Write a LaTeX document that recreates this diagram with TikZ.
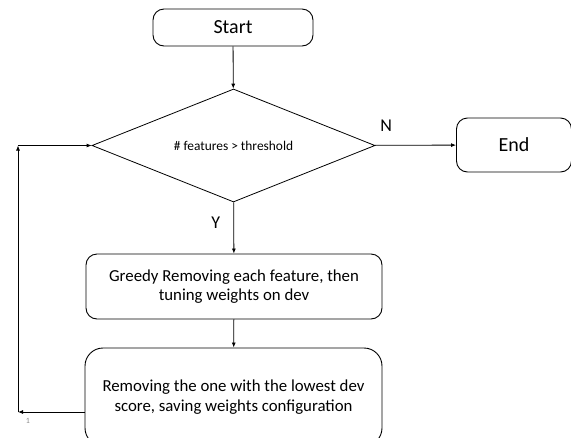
\documentclass[tikz,border=0pt]{standalone}
\usepackage{fontspec}
\setmainfont{Carlito}
\usetikzlibrary{shapes.geometric,arrows.meta}
\tikzset{
  flowbox/.style={draw,rounded corners=11pt,line width=0.9pt,align=center,inner sep=0pt},
  flowarrow/.style={-{Latex[length=5pt,width=4pt]},line width=0.8pt},
}
\begin{document}
\begin{tikzpicture}[x=1pt,y=-1pt]
\useasboundingbox (0,0) rectangle (571,437);
%\path[draw] (233,28) node {Start};
\node[flowbox,minimum width=160pt,minimum height=37pt,font=\fontsize{20}{22}\selectfont] (start) at (233,27.5) {Start};
\node[draw,diamond,aspect=2.5,minimum width=283pt,minimum height=113pt,inner sep=0pt,line width=0.8pt,font=\fontsize{13.4}{15}\selectfont] (test) at (233.5,145.5) {\# features > threshold};
\node[flowbox,minimum width=115pt,minimum height=54pt,font=\fontsize{20}{22}\selectfont] (end) at (514,145) {End};
\node[flowbox,minimum width=296pt,minimum height=65pt,font=\fontsize{16.8}{19.5}\selectfont] (greedy) at (234,286.5) {Greedy Removing each feature, then\\tuning weights on dev};
\node[flowbox,rounded corners=18pt,minimum width=297pt,minimum height=98pt,font=\fontsize{16.8}{19.5}\selectfont] (remove) at (233.5,397) {Removing the one with the lowest dev\\score, saving weights configuration};
\coordinate (loopbot) at (18,412);
\coordinate (looptop) at (18,145.5);
\draw[flowarrow] (start) -- (test);
\draw[flowarrow] (test) -- node[pos=0.14,above=10pt,font=\fontsize{18}{20}\selectfont] {N} (end);
\draw[flowarrow] (test) -- node[pos=0.4,left,font=\fontsize{18}{20}\selectfont,xshift=-10pt] {Y} (greedy);
\draw[flowarrow] (greedy) -- (remove);
\draw[flowarrow] (remove.west |- loopbot) -- (loopbot);
\draw[flowarrow] (loopbot) -- (looptop);
\draw[flowarrow] (looptop) -- (test.west);
\node[text=black!45,font=\fontsize{8}{9}\selectfont] (pagenum) at (28,421) {1};
\end{tikzpicture}
\end{document}
